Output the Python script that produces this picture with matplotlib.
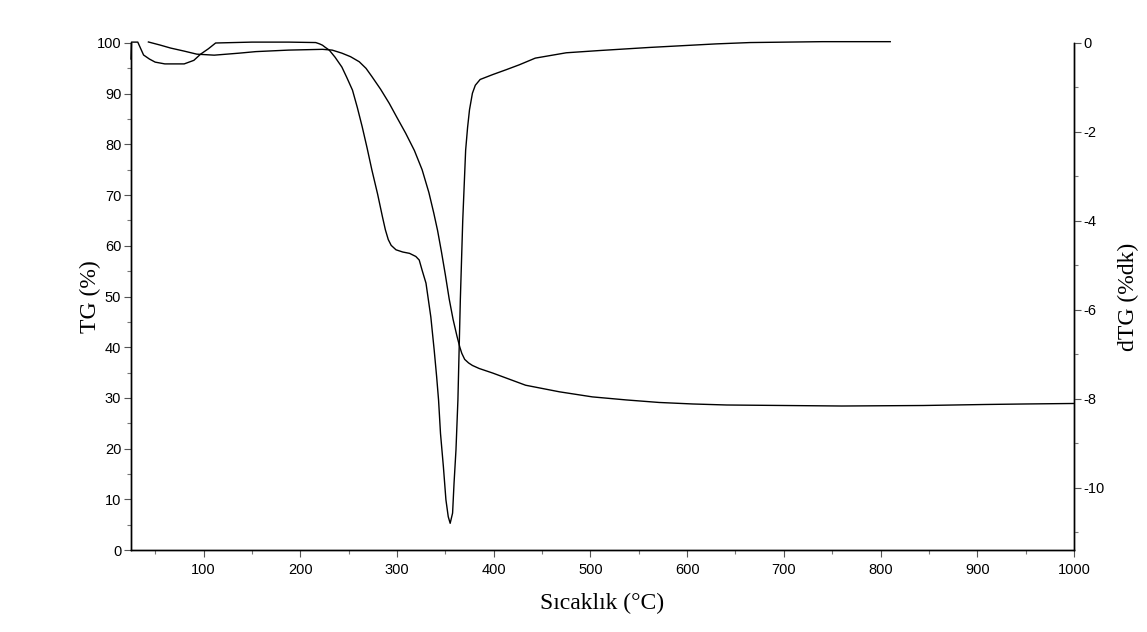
import numpy as np
import matplotlib.pyplot as plt
from matplotlib.ticker import MultipleLocator

plt.rcParams['axes.unicode_minus'] = False

# TG curve (left axis, %)
tg_temp = [43, 55, 66, 80, 93, 111, 137, 154, 188, 223, 233, 243, 252, 261, 268,
           274, 283, 292, 300, 309, 318, 326, 333, 338, 342, 346, 350, 354, 358,
           362, 365, 367, 370, 374, 378, 385, 399, 433, 468, 502, 537, 571,
           606, 641, 701, 760, 844, 908, 949, 1000]
tg_val = [100.2, 99.6, 99.0, 98.4, 97.8, 97.6, 98.0, 98.3, 98.6, 98.75, 98.6, 98.0,
          97.3, 96.3, 95.0, 93.4, 90.9, 88.1, 85.3, 82.2, 78.8, 75.0, 70.5, 66.5,
          63.0, 58.8, 54.3, 49.5, 45.5, 42.2, 40.0, 38.8, 37.6, 36.9, 36.4, 35.8,
          34.9, 32.5, 31.2, 30.2, 29.6, 29.1, 28.8, 28.6, 28.5, 28.4, 28.5, 28.7,
          28.8, 28.9]

# dTG curve (right axis, %/dk)
dtg_temp = [25, 25.5, 32, 38, 44, 50, 60, 80, 90, 97, 105, 112.5, 150, 188, 216,
            220, 223, 226, 230, 236, 243, 248, 254, 259, 264, 269, 274, 280, 285,
            288, 291, 294, 299, 306, 313, 319.5, 323, 326, 330, 335, 338.5, 341,
            343, 345, 348, 350.6, 353, 355, 357.5, 359, 361, 363, 365.5, 368, 371,
            373, 375, 378, 381, 386, 399, 413, 426.5, 443, 475, 509, 561, 630, 665,
            740, 768, 810]
dtg_val = [-0.36, 0.02, 0.02, -0.27, -0.36, -0.43, -0.47, -0.47, -0.39, -0.25,
           -0.13, 0.0, 0.02, 0.02, 0.01, -0.02, -0.05, -0.10, -0.16, -0.32, -0.54,
           -0.77, -1.06, -1.45, -1.88, -2.35, -2.85, -3.40, -3.91, -4.20, -4.42,
           -4.55, -4.65, -4.70, -4.73, -4.80, -4.88, -5.11, -5.40, -6.16, -6.91,
           -7.50, -8.03, -8.78, -9.53, -10.27, -10.65, -10.80, -10.57, -9.90,
           -9.15, -8.03, -5.78, -3.99, -2.41, -1.90, -1.50, -1.13, -0.95, -0.82,
           -0.71, -0.60, -0.49, -0.34, -0.22, -0.17, -0.10, -0.02, 0.01, 0.03,
           0.03, 0.03]

tick_font = ['Liberation Sans Narrow', 'Liberation Sans', 'DejaVu Sans']
label_font = ['Liberation Serif', 'DejaVu Serif']

fig = plt.figure(figsize=(11.47, 6.32), dpi=100)
ax = fig.add_axes([131 / 1147, 1 - 550 / 632, (1074 - 131) / 1147, (550 - 43) / 632])
ax2 = ax.twinx()

ax.plot(tg_temp, tg_val, color='black', lw=1.0, clip_on=False)
ax2.plot(dtg_temp, dtg_val, color='black', lw=1.0, clip_on=False)

ax.set_xlim(25, 1000)
ax.set_ylim(0, 100)
ax2.set_ylim(-11.4, 0)

ax.xaxis.set_major_locator(MultipleLocator(100))
ax.xaxis.set_minor_locator(MultipleLocator(50))
ax.yaxis.set_major_locator(MultipleLocator(10))
ax.yaxis.set_minor_locator(MultipleLocator(5))
ax2.yaxis.set_major_locator(MultipleLocator(2))
ax2.yaxis.set_minor_locator(MultipleLocator(1))

for a in (ax, ax2):
    a.spines['top'].set_visible(False)
    for s in a.spines.values():
        s.set_linewidth(1.0)
    a.tick_params(which='major', length=5, width=0.8, pad=2, labelsize=10.5,
                  color='#555555')
    a.tick_params(which='minor', length=3, width=0.8, color='#777777')

ax.set_xticks([t for t in range(100, 1001, 100)])
ax.tick_params(axis='x', pad=4)
for a in (ax, ax2):
    for lab in a.get_xticklabels() + a.get_yticklabels():
        lab.set_family(tick_font)

ax.set_xlabel('Sıcaklık (°C)', family=label_font, fontsize=17, labelpad=12)
ax.set_ylabel('TG (%)', family=label_font, fontsize=17, labelpad=-3)
ax2.set_ylabel('dTG (%dk)', family=label_font, fontsize=17, labelpad=9)

fig.savefig('out.png', dpi=100)
